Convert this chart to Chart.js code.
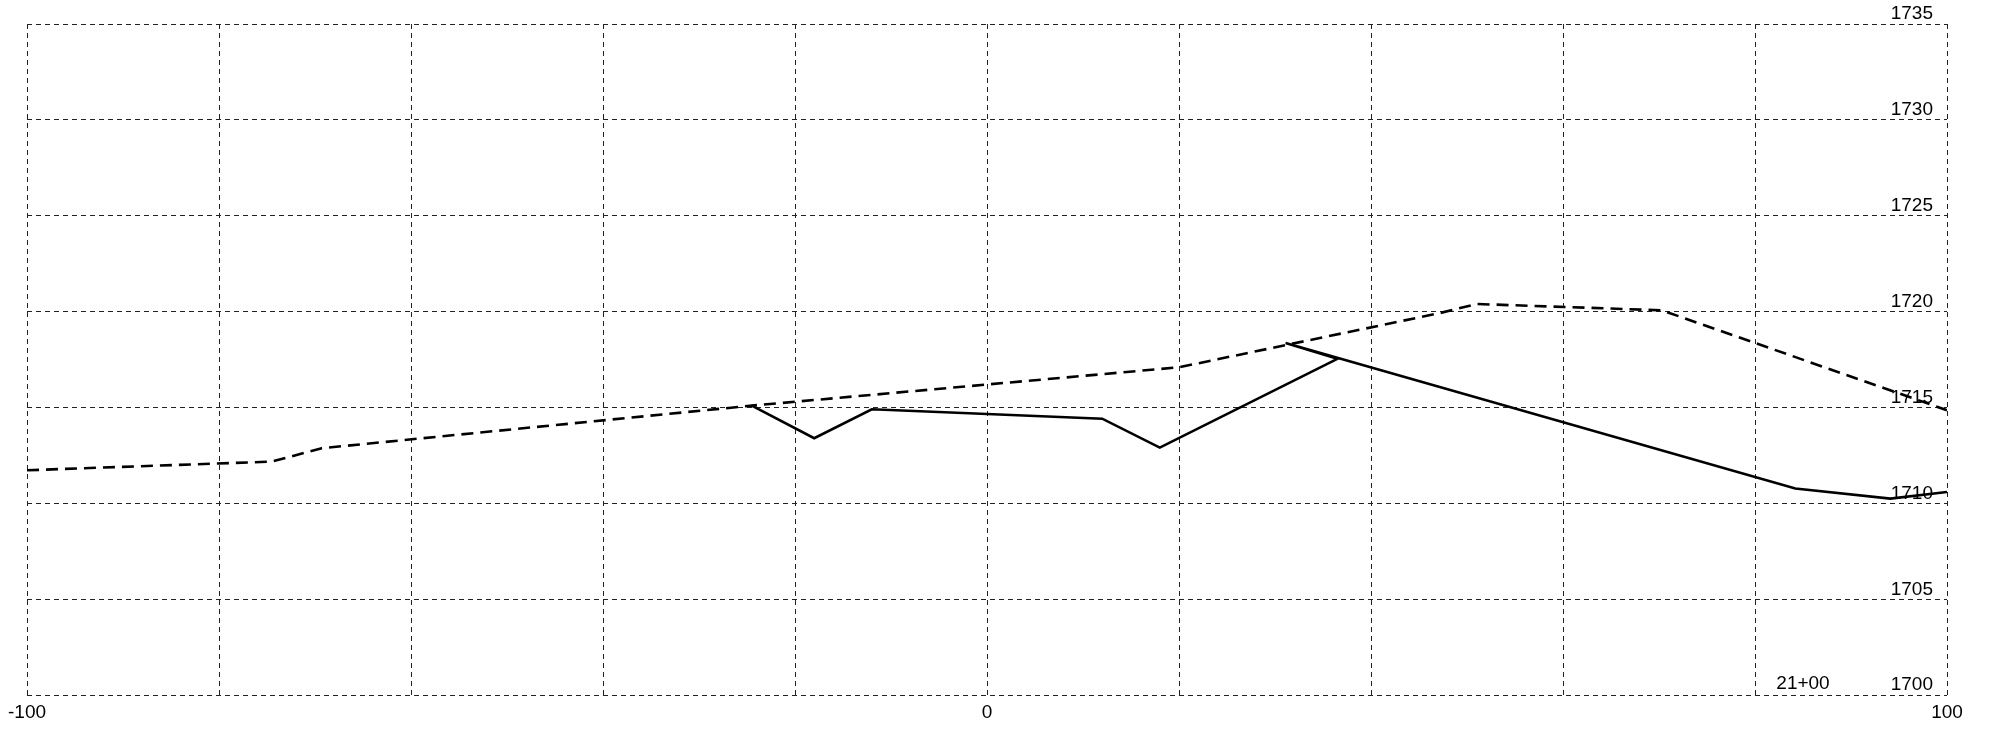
<!DOCTYPE html>
<html>
<head>
<meta charset="utf-8">
<script src="https://cdn.jsdelivr.net/npm/chart.js@4/dist/chart.umd.min.js"></script>
<style>
  body { margin: 0; background: #fff; }
  #wrap { width: 1990px; height: 732px; }
</style>
</head>
<body>
<div id="wrap"><canvas id="perfil"></canvas></div>
<script>
// rasante (linea a trazos)
const rasanteX = [-100, -74.5, -69.3, -24.5, 20.0, 47.2, 51.0, 70.3, 100];
const rasanteY = [1711.73, 1712.18, 1712.88, 1715.10, 1717.10, 1719.93, 1720.40, 1720.07, 1714.86];

// terreno (linea continua)
const terrenoX = [-24.5, -18.0, -12.0, 12.0, 18.0, 36.5, 31.1, 84.2, 94.1, 100];
const terrenoY = [1715.10, 1713.40, 1714.91, 1714.42, 1712.91, 1717.54, 1718.37, 1710.78, 1710.25, 1710.60];

const etiquetasX = [-100, 0, 100];
const estacion = '21+00';
const estacionX = 85;

const fuente = { family: '"Liberation Sans", Arial, sans-serif', size: 19 };

function puntos(xs, ys) {
    return xs.map((x, i) => ({ x: x, y: ys[i] }));
}

// texto de la estacion abajo a la derecha
const etiquetaEstacion = {
    id: 'etiquetaEstacion',
    afterDraw(chart) {
        const c = chart.ctx;
        const px = chart.scales.x.getPixelForValue(estacionX);
        const py = chart.scales.y.getPixelForValue(1700);
        c.save();
        c.font = fuente.size + 'px ' + fuente.family;
        c.fillStyle = '#000';
        c.textAlign = 'center';
        c.textBaseline = 'middle';
        c.fillText(estacion, px, py - 11);
        c.restore();
    }
};

let ctx = document.getElementById('perfil').getContext('2d');
let chart = new Chart(ctx, {
    type: 'scatter',
    data: {
        datasets: [{
            label: 'Rasante',
            data: puntos(rasanteX, rasanteY),
            showLine: true,
            borderColor: '#000000',
            borderWidth: 2.6,
            borderDash: [12, 7],
            pointRadius: 0,
            tension: 0
        }, {
            label: 'Terreno',
            data: puntos(terrenoX, terrenoY),
            showLine: true,
            borderColor: '#000000',
            borderWidth: 2.6,
            pointRadius: 0,
            tension: 0
        }]
    },
    options: {
        responsive: true,
        maintainAspectRatio: false,
        animation: false,
        layout: { padding: { top: 24, right: 43, bottom: 2, left: 27 } },
        plugins: {
            legend: { display: false },
            tooltip: { enabled: false }
        },
        scales: {
            x: {
                type: 'linear',
                min: -100,
                max: 100,
                border: { display: false, dash: [5, 4] },
                grid: { color: '#222', lineWidth: 1, drawTicks: false },
                ticks: {
                    stepSize: 20,
                    color: '#000',
                    font: fuente,
                    padding: 6,
                    maxRotation: 0,
                    autoSkip: false,
                    callback: v => etiquetasX.includes(v) ? String(v) : ''
                }
            },
            y: {
                type: 'linear',
                position: 'right',
                min: 1700,
                max: 1735,
                border: { display: false, dash: [5, 4] },
                grid: { color: '#222', lineWidth: 1, drawTicks: false },
                ticks: {
                    stepSize: 5,
                    color: '#000',
                    font: fuente,
                    mirror: true,
                    padding: -14,
                    labelOffset: -10,
                    callback: v => String(v)
                }
            }
        }
    },
    plugins: [etiquetaEstacion]
});
</script>
</body>
</html>
